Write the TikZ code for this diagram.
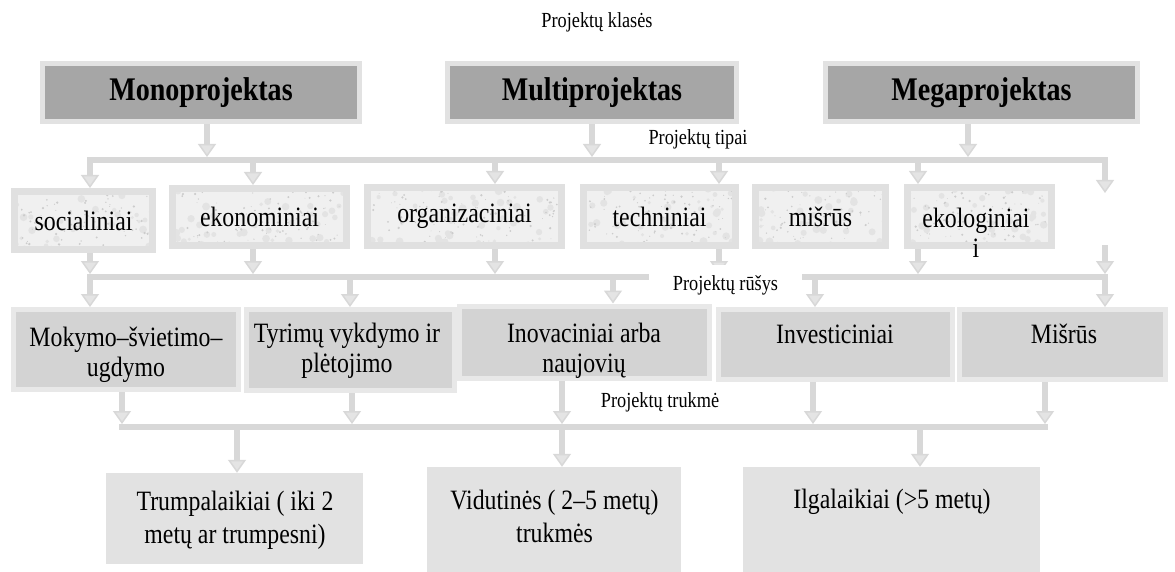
\documentclass[tikz,border=0pt]{standalone}
\usepackage{fontspec}
\setmainfont{Liberation Serif}[FakeStretch=0.85]
\usetikzlibrary{arrows.meta}

\definecolor{lnk}{HTML}{D8D8D8}
\definecolor{lnkfill}{HTML}{E4E4E4}
\definecolor{clsfill}{HTML}{A6A6A6}
\definecolor{clsedge}{HTML}{E2E2E2}
\definecolor{typfill}{HTML}{F0F0F0}
\definecolor{typedge}{HTML}{E0E0E0}
\definecolor{cloudcol}{HTML}{E3E3E3}
\definecolor{speckcol}{HTML}{CCCCCC}
\definecolor{subfill}{HTML}{D3D3D3}
\definecolor{subedge}{HTML}{E8E8E8}
\definecolor{durfill}{HTML}{E2E2E2}

\newcommand\bodyfont{\fontsize{28}{30}\selectfont}
\newcommand\durfont{\fontsize{28}{33}\selectfont}
\newcommand\clsfont{\fontsize{33}{38}\selectfont\bfseries}
\newcommand\lblfont{\fontsize{21.5}{25}\selectfont}

\pgfdeclarelayer{links}
\pgfsetlayers{links,main}

\tikzset{
  lbl/.style={font=\lblfont, inner sep=0pt},
  body/.style={font=\bodyfont, inner sep=0pt, align=center},
  durtext/.style={body, font=\durfont},
  cls/.style={draw=clsedge, line width=5pt, fill=clsfill, inner sep=0pt, font=\clsfont},
  typ/.style={draw=typedge, line width=7pt, fill=typfill, inner sep=0pt, font=\bodyfont,
    path picture={
      \foreach \k in {1,...,70}{
        \fill[cloudcol] ([shift={({220*rnd-110},{70*rnd-35})}]path picture bounding box.center)
          circle[radius={1.5+2.5*rnd}];
      }
      \foreach \k in {1,...,150}{
        \fill[speckcol] ([shift={({220*rnd-110},{70*rnd-35})}]path picture bounding box.center)
          circle[radius={0.4+0.9*rnd}];
      }}},
  sub/.style={draw=subedge, line width=5pt, fill=subfill, inner sep=0pt},
  dur/.style={fill=durfill, inner sep=0pt},
  bus/.style={draw=lnk, line width=6pt, line cap=rect},
  arr/.style={draw=lnk, line width=6pt,
    -{Triangle[width=18pt,length=13pt,line width=1.5pt,fill=lnkfill]}},
  tobus/.style={arr, shorten >=3pt},
}

\begin{document}
\begin{tikzpicture}[x=1pt,y=-1pt]
\pgfmathsetseed{7}
\useasboundingbox (0,0) rectangle (1175,572);

% ---------- project classes ----------
\node[lbl, anchor=base] (title) at (597,28) {Projektų klasės};
\node[cls, minimum width=317pt, minimum height=58pt] (mono)  at (201,92.5)   {Monoprojektas};
\node[cls, minimum width=289pt, minimum height=58pt] (multi) at (592,92.5)   {Multiprojektas};
\node[cls, minimum width=312pt, minimum height=58pt] (mega)  at (981.5,92.5) {Megaprojektas};
\node[lbl, anchor=base] (tipai) at (698,145) {Projektų tipai};

% ---------- project types ----------
\node[typ, minimum width=138pt, minimum height=58pt] (soc)  at (83.5,220.5)  {socialiniai};
\node[typ, minimum width=174pt, minimum height=57pt] (ekn)  at (259.5,217)   {ekonominiai};
\node[typ, minimum width=194pt, minimum height=58pt] (org)  at (464.5,216.5) {organizaciniai};
\node[typ, minimum width=152pt, minimum height=58pt] (tech) at (659.5,216.5) {techniniai};
\node[typ, minimum width=130pt, minimum height=58pt] (mis)  at (820.5,216.5) {mišrūs};
\node[typ, minimum width=144pt, minimum height=58pt] (ekl)  at (979.5,216.5) {};
% two-line texts: the base anchor sits on the last line
\node[body, anchor=base] (eklt) at (976,257) {ekologiniai\\i};

\node[lbl, fill=white, minimum width=153pt, minimum height=40pt] (rusys) at (725.5,285) {Projektų rūšys};

% ---------- project kinds ----------
\node[sub, minimum width=225pt, minimum height=80pt] (mok) at (126,349.5) {};
\node[sub, minimum width=208pt, minimum height=81pt] (tyr) at (350.5,350) {};
\node[sub, minimum width=250pt, minimum height=72pt] (ino) at (584.5,342) {};
\node[sub, minimum width=234pt, minimum height=70pt] (inv) at (835.5,344.5) {};
\node[sub, minimum width=206pt, minimum height=70pt] (mix) at (1062.5,344.5) {};
\node[body, anchor=base] (mokt) at (126,376) {Mokymo–švietimo–\\ugdymo};
\node[body, anchor=base] (tyrt) at (347,372) {Tyrimų vykdymo ir\\plėtojimo};
\node[body, anchor=base] (inot) at (584,372) {Inovaciniai arba\\naujovių};
\node[body, anchor=base] (invt) at (835,343) {Investiciniai};
\node[body, anchor=base] (mixt) at (1064,343) {Mišrūs};

\node[lbl, anchor=base] (trukme) at (660,407) {Projektų trukmė};

% ---------- project duration ----------
\node[dur, minimum width=257pt, minimum height=91pt]  (trp) at (234.5,518.5) {};
\node[dur, minimum width=254pt, minimum height=105pt] (vid) at (554,519.5) {};
\node[dur, minimum width=297pt, minimum height=105pt] (ilg) at (891.5,519.5) {};
\node[durtext, anchor=base] (trpt) at (235,543) {Trumpalaikiai ( iki 2\\metų ar trumpesni)};
\node[durtext, anchor=base] (vidt) at (554.5,542) {Vidutinės ( 2–5 metų)\\trukmės};
\node[durtext, anchor=base] (ilgt) at (892,508) {Ilgalaikiai (>5 metų)};

% ---------- bus junctions ----------
\coordinate (j1m) at (207,160);  \coordinate (j1u) at (592,160);  \coordinate (j1g) at (968,160);
\coordinate (j1s) at (90,160);   \coordinate (j1e) at (253,160);  \coordinate (j1o) at (495,160);
\coordinate (j1t) at (719,160);  \coordinate (j1k) at (918,160);  \coordinate (j1r) at (1105,160);
\coordinate (f1r) at (1105,193);
\coordinate (j2s) at (90,277);   \coordinate (j2e) at (253,277);  \coordinate (j2o) at (495,277);
\coordinate (j2t) at (719,277);  \coordinate (j2k) at (918,277);  \coordinate (j2r) at (1105,277);
\coordinate (f2r) at (1105,245);
\coordinate (j2y) at (350,277);  \coordinate (j2i) at (613,277);  \coordinate (j2v) at (815,277);
\coordinate (j3m) at (122,427);  \coordinate (j3y) at (352,427);  \coordinate (j3i) at (562,427);
\coordinate (j3v) at (813,427);  \coordinate (j3x) at (1045,427);
\coordinate (j3t) at (237,427);  \coordinate (j3l) at (920,427);

\begin{pgfonlayer}{links}
  % buses
  \draw[bus] (j1s) -- (j1r);
  \draw[bus] (j2s) -- (j2r);
  \draw[bus] (j3m) -- (j3x);
  % classes -> types
  \draw[tobus] (mono.south -| j1m) -- (j1m);
  \draw[tobus] (multi.south -| j1u) -- (j1u);
  \draw[tobus] (mega.south -| j1g) -- (j1g);
  \draw[arr] (j1s) -- (j1s |- soc.north);
  \draw[arr] (j1e) -- (j1e |- ekn.north);
  \draw[arr] (j1o) -- (j1o |- org.north);
  \draw[arr] (j1t) -- (j1t |- tech.north);
  \draw[arr] (j1k) -- (j1k |- ekl.north);
  \draw[arr] (j1r) -- (f1r);
  % types -> kinds
  \draw[tobus] (soc.south -| j2s) -- (j2s);
  \draw[tobus] (ekn.south -| j2e) -- (j2e);
  \draw[tobus] (org.south -| j2o) -- (j2o);
  \draw[tobus] (tech.south -| j2t) -- (j2t);
  \draw[tobus] (ekl.south -| j2k) -- (j2k);
  \draw[tobus] (f2r) -- (j2r);
  \draw[arr] (j2s) -- (j2s |- mok.north);
  \draw[arr] (j2y) -- (j2y |- tyr.north);
  \draw[arr] (j2i) -- (j2i |- ino.north);
  \draw[arr] (j2v) -- (j2v |- inv.north);
  \draw[arr] (j2r) -- (j2r |- mix.north);
  % kinds -> duration
  \draw[tobus] (mok.south -| j3m) -- (j3m);
  \draw[tobus] (tyr.south -| j3y) -- (j3y);
  \draw[tobus] (ino.south -| j3i) -- (j3i);
  \draw[tobus] (inv.south -| j3v) -- (j3v);
  \draw[tobus] (mix.south -| j3x) -- (j3x);
  \draw[arr] (j3t) -- (j3t |- trp.north);
  \draw[arr] (j3i) -- (j3i |- vid.north);
  \draw[arr] (j3l) -- (j3l |- ilg.north);
\end{pgfonlayer}
\end{tikzpicture}
\end{document}
